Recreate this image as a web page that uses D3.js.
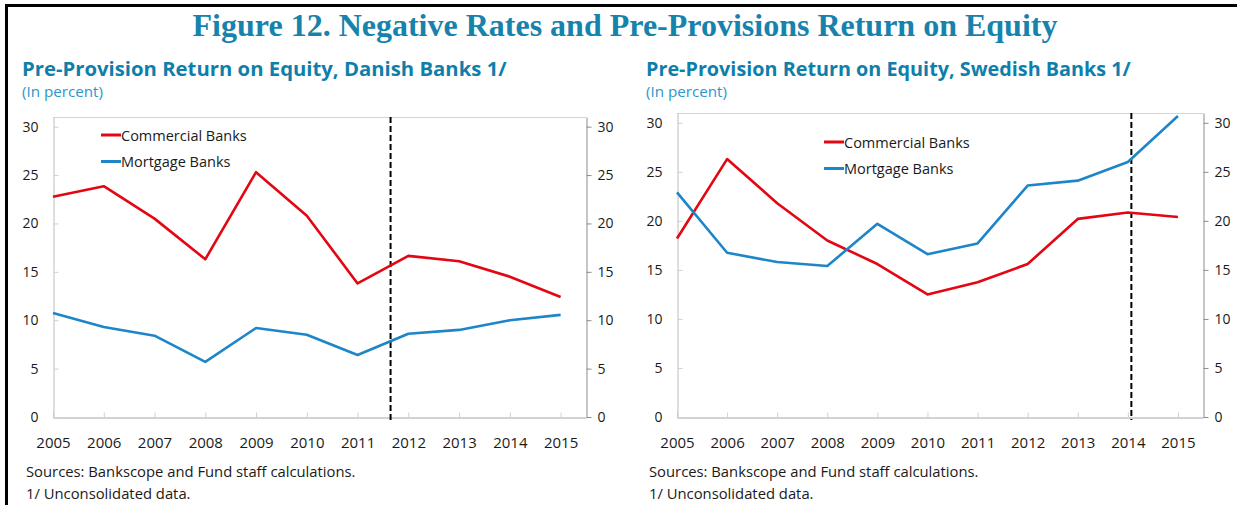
<!DOCTYPE html>
<html>
<head>
<meta charset="utf-8">
<script src="https://cdn.jsdelivr.net/npm/d3@7"></script>
<style>
  body { margin: 0; background: #fff; }
  svg { display: block; }
</style>
</head>
<body>
<svg id="canvas" width="1237" height="505"></svg>
<script>
// years on the x axis
const years = [2005, 2006, 2007, 2008, 2009, 2010, 2011, 2012, 2013, 2014, 2015];
const yTicks = [0, 5, 10, 15, 20, 25, 30];

// Danish banks (percent)
const danishCommercial = [22.75, 23.85, 20.5, 16.3, 25.3, 20.8, 13.8, 16.65, 16.1, 14.5, 12.4];
const danishMortgage = [10.75, 9.3, 8.4, 5.7, 9.2, 8.5, 6.4, 8.6, 9.0, 10.0, 10.55];

// Swedish banks (percent)
const swedishCommercial = [18.2, 26.3, 21.8, 18.0, 15.6, 12.5, 13.75, 15.6, 20.2, 20.85, 20.4];
const swedishMortgage = [22.9, 16.75, 15.8, 15.4, 19.7, 16.6, 17.7, 23.6, 24.1, 26.0, 30.7];

const seriesNames = ['Commercial Banks', 'Mortgage Banks'];
const seriesColors = ['#e30613', '#1c86c8'];

// where the dashed marker line sits (fraction of year)
const danishMarker = 2011.65;
const swedishMarker = 2014.07;

const titleText = 'Figure 12. Negative Rates and Pre-Provisions Return on Equity';
const notes = ['Sources: Bankscope and Fund staff calculations.', '1/ Unconsolidated data.'];

let canvas = d3.select('#canvas');

canvas.append('rect').attr('width', 1237).attr('height', 505).attr('fill', '#fff');

// black frame on top and left
canvas.append('line').attr('x1', 5).attr('x2', 1237).attr('y1', 5.5).attr('y2', 5.5)
    .attr('stroke', '#000').attr('stroke-width', 3);
canvas.append('line').attr('x1', 6.5).attr('x2', 6.5).attr('y1', 4).attr('y2', 505)
    .attr('stroke', '#000').attr('stroke-width', 3);

canvas.append('text')
    .attr('x', 625).attr('y', 36)
    .attr('text-anchor', 'middle')
    .style('font', 'bold 32px "Liberation Serif"')
    .attr('fill', '#1683ad')
    .text(titleText);

let panels = [
    {sub: 'Pre-Provision Return on Equity, Danish Banks 1/', textX: 22, noteX: 26,
     left: 53, right: 586, top: 117, bottom: 417,
     series: [danishCommercial, danishMortgage], marker: danishMarker,
     legX: 101, legY: 135},
    {sub: 'Pre-Provision Return on Equity, Swedish Banks 1/', textX: 646, noteX: 649,
     left: 677, right: 1203, top: 113, bottom: 417,
     series: [swedishCommercial, swedishMortgage], marker: swedishMarker,
     legX: 824, legY: 142}
];

let drawPanel = (p) => {
    let x = d3.scaleLinear().domain([2005, 2015.5]).range([p.left, p.right]);
    let y = d3.scaleLinear().domain([0, 31]).range([p.bottom, p.top]);

    let sub = canvas.append('text')
        .attr('x', p.textX).attr('y', 76)
        .style('font-family', '"Open Sans"')
        .style('font-weight', 'bold')
        .style('font-size', '19px')
        .attr('fill', '#0e7fab')
        .text(p.sub);
    // size the subtitle to the width it has in the source
    let w = sub.node().getComputedTextLength();
    sub.style('font-size', (19 * 485 / w).toFixed(2) + 'px');

    canvas.append('text')
        .attr('x', p.textX).attr('y', 97)
        .style('font', '15.2px "Open Sans"')
        .attr('fill', '#2a97cc')
        .text('(In percent)');

    // top frame line
    canvas.append('line')
        .attr('x1', p.left).attr('x2', p.right)
        .attr('y1', p.top + 0.5).attr('y2', p.top + 0.5)
        .attr('stroke', '#d4d4d4');

    let gx = canvas.append('g')
        .attr('transform', `translate(0,${p.bottom + 0.5})`)
        .call(d3.axisBottom(x).tickValues(years).tickFormat(d3.format('d'))
            .tickSize(-5).tickSizeOuter(0).tickPadding(20));
    let gl = canvas.append('g')
        .attr('transform', `translate(${p.left + 0.5},0)`)
        .call(d3.axisLeft(y).tickValues(yTicks).tickSize(-5).tickSizeOuter(0).tickPadding(15));
    let gr = canvas.append('g')
        .attr('transform', `translate(${p.right + 0.5},0)`)
        .call(d3.axisRight(y).tickValues(yTicks).tickSize(5).tickSizeOuter(0).tickPadding(6));

    gx.select('.domain').attr('stroke', '#a6a6a6');
    gl.select('.domain').attr('stroke', '#bdbdbd');
    gr.select('.domain').attr('stroke', '#8c8c8c');
    gx.selectAll('.tick line').attr('stroke', '#d0d0d0');
    gl.selectAll('.tick line').attr('stroke', '#d0d0d0');
    gr.selectAll('.tick line').attr('stroke', '#8c8c8c');
    [gl, gr].forEach(g => {
        g.selectAll('text')
            .style('font', '14px "Open Sans"')
            .attr('fill', '#1a1a1a');
    });
    gx.selectAll('text')
        .style('font', '15px "Open Sans"')
        .attr('fill', '#1a1a1a');

    // dashed marker
    canvas.append('line')
        .attr('x1', x(p.marker)).attr('x2', x(p.marker))
        .attr('y1', p.top).attr('y2', p.bottom + 3)
        .attr('stroke', '#000').attr('stroke-width', 2)
        .attr('stroke-dasharray', '6,3');

    let line = d3.line()
        .x((d, i) => x(years[i]))
        .y(d => y(d));

    p.series.forEach((s, i) => {
        canvas.append('path')
            .datum(s)
            .attr('d', line)
            .attr('fill', 'none')
            .attr('stroke', seriesColors[i])
            .attr('stroke-width', 2.6)
            .attr('stroke-linejoin', 'round');
    });

    // legend
    seriesNames.forEach((name, i) => {
        let ly = p.legY + i * 26.5;
        canvas.append('line')
            .attr('x1', p.legX).attr('x2', p.legX + 20)
            .attr('y1', ly).attr('y2', ly)
            .attr('stroke', seriesColors[i]).attr('stroke-width', 3);
        canvas.append('text')
            .attr('x', p.legX + 20).attr('y', ly + 5.5)
            .style('font', '14.5px "Open Sans"')
            .attr('fill', '#1a1a1a')
            .text(name);
    });

    notes.forEach((n, i) => {
        canvas.append('text')
            .attr('x', p.noteX).attr('y', 477 + i * 21.5)
            .style('font', '14.8px "Open Sans"')
            .attr('fill', '#1a1a1a')
            .text(n);
    });
};

panels.forEach(drawPanel);
</script>
</body>
</html>
